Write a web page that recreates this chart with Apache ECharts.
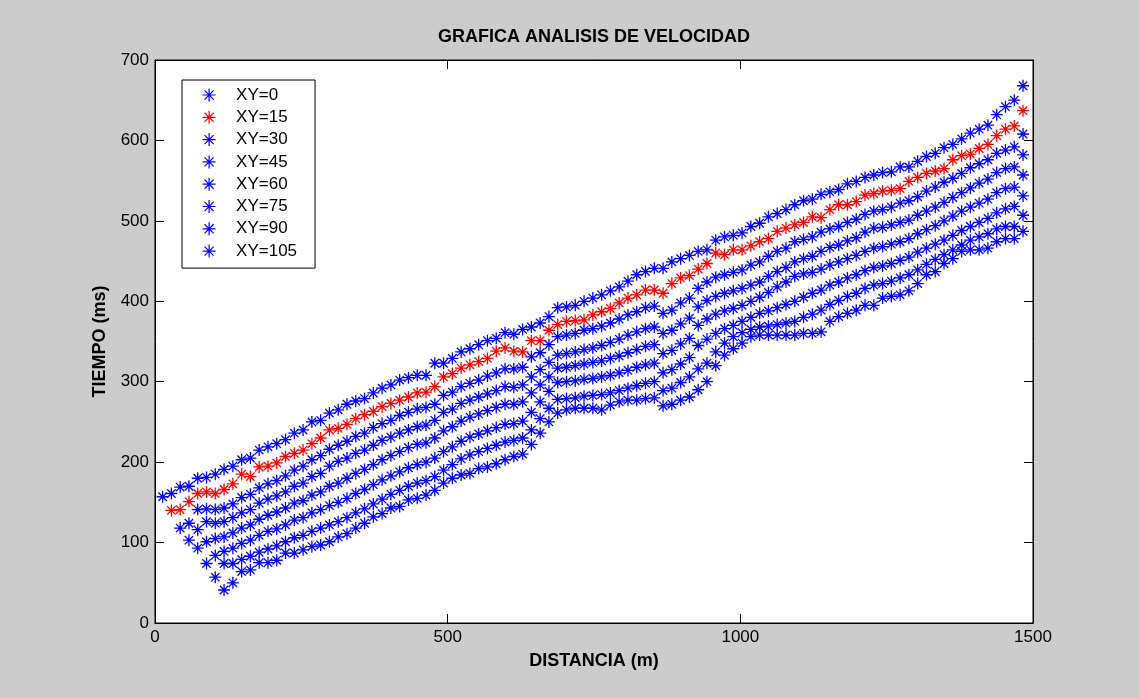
<!DOCTYPE html>
<html><head><meta charset="utf-8">
<script src="https://cdn.jsdelivr.net/npm/echarts@6/dist/echarts.min.js"></script>
<style>html,body{margin:0;padding:0;background:#cccccc}#c{width:1139px;height:698px}</style>
</head><body><div id="c"></div>
<script>
// Distance (m) of each geophone position
const distances = [13,28,43,58,73,88,103,118,133,148,163,178,193,208,223,238,253,268,283,298,313,328,343,358,373,388,403,418,433,448,463,478,493,508,523,538,553,568,583,598,613,628,643,658,673,688,703,718,733,748,763,778,793,808,823,838,853,868,883,898,913,928,943,958,973,988,1003,1018,1033,1048,1063,1078,1093,1108,1123,1138,1153,1168,1183,1198,1213,1228,1243,1258,1273,1288,1303,1318,1333,1348,1363,1378,1393,1408,1423,1438,1453,1468,1483];

// Travel times (ms) per series, aligned with distances (null = no point)
const xy0 = [157,161,169,170,180,181,185,191,195,203,205,215,219,223,228,236,240,250,252,261,265,272,276,279,286,292,296,302,305,308,308,323,323,329,337,341,346,351,354,361,359,365,368,373,381,392,393,395,400,404,408,413,418,425,433,437,441,441,449,453,457,462,464,476,480,482,485,493,497,505,509,514,520,525,527,533,536,539,546,549,554,557,560,561,567,567,574,580,584,591,595,602,609,614,619,632,642,650,668];
const xy15 = [null,140,141,151,161,163,161,166,173,185,182,194,195,199,207,211,215,223,230,240,242,247,254,259,263,269,273,277,281,286,287,294,306,310,317,321,325,329,338,342,338,337,351,351,364,371,375,376,377,383,387,391,398,404,408,414,414,410,422,429,432,440,447,460,458,464,464,469,474,478,487,491,495,498,505,504,514,520,520,524,532,534,537,538,540,549,554,559,562,565,576,581,583,590,595,606,614,618,637];
const xy30 = [null,null,118,124,141,142,141,143,148,156,160,168,173,177,183,190,195,203,208,216,221,226,232,236,243,248,252,258,262,266,268,272,283,287,294,298,302,307,311,316,316,318,331,336,346,356,358,360,364,366,369,373,378,383,387,392,394,385,389,398,404,416,424,430,433,436,439,445,449,456,462,466,474,477,480,486,490,493,498,502,508,512,514,517,522,525,530,537,542,548,553,559,566,571,576,584,588,592,608];
const xy45 = [null,null,null,103,116,126,124,126,131,137,141,149,154,158,163,170,174,182,186,195,201,205,211,215,221,227,231,236,240,244,246,252,262,266,273,277,281,285,289,294,293,296,306,315,324,333,335,337,340,342,345,349,353,358,362,366,368,360,364,372,379,393,401,406,410,413,416,420,424,431,437,442,449,453,456,462,467,470,475,479,486,491,492,495,498,501,507,512,517,523,529,535,541,547,552,560,565,567,582];
const xy60 = [null,null,null,null,93,101,105,107,112,118,122,129,134,138,143,149,152,159,163,170,174,180,186,191,197,203,208,213,218,222,224,230,239,244,251,256,260,264,268,272,272,275,286,296,306,317,318,320,322,324,326,329,332,336,340,344,346,335,339,347,354,370,378,384,388,391,395,400,405,411,418,424,431,434,436,440,445,449,453,457,462,466,468,471,474,478,484,489,494,500,506,512,517,522,527,535,540,542,557];
const xy75 = [null,null,null,null,null,74,84,89,93,99,103,109,114,117,122,128,131,137,141,146,150,155,161,166,172,178,183,188,193,197,200,205,213,219,226,231,235,239,243,247,248,251,262,275,288,299,300,301,303,304,306,308,311,314,318,321,323,311,315,322,330,345,353,360,366,370,375,380,385,388,392,396,400,405,410,414,420,424,429,433,438,442,444,447,451,455,461,466,471,476,482,488,493,498,503,510,515,518,531];
const xy90 = [null,null,null,null,null,null,57,74,74,79,83,88,92,96,101,106,109,114,118,122,126,131,137,142,148,154,160,165,170,174,177,182,190,197,204,209,213,217,221,225,227,230,240,254,267,278,279,280,282,283,284,286,289,292,295,298,300,289,292,299,306,316,323,337,348,356,361,365,368,369,371,373,375,380,384,389,396,401,406,410,416,420,422,425,429,433,439,446,452,458,464,470,476,480,484,490,493,493,507];
const xy105 = [null,null,null,null,null,null,null,41,50,64,66,75,75,78,87,87,91,95,97,101,107,111,118,124,132,136,143,145,153,155,159,165,174,180,184,186,192,194,198,203,207,210,222,236,250,261,265,267,267,267,265,271,275,277,277,279,280,270,272,277,281,290,300,320,333,341,348,356,358,358,358,358,358,360,360,362,375,381,385,389,395,395,404,406,408,413,422,433,437,447,453,462,464,464,466,474,478,478,487];

const seriesNames = ['XY=0','XY=15','XY=30','XY=45','XY=60','XY=75','XY=90','XY=105'];
const seriesValues = [xy0, xy15, xy30, xy45, xy60, xy75, xy90, xy105];
const seriesColors = ['#0000ff','#ff0000','#0000ff','#0000ff','#0000ff','#0000ff','#0000ff','#0000ff'];

const ASTERISK = 'path://M5,0L5,10M0,5L10,5M1.5,1.5L8.5,8.5M1.5,8.5L8.5,1.5';
const FONT = 'Liberation Sans, Arial, Helvetica, sans-serif';

const series = seriesNames.map((name, k) => ({
  name: name,
  type: 'scatter',
  symbol: ASTERISK,
  symbolSize: 12,
  data: distances.map((d, i) => seriesValues[k][i] == null ? null : [d, seriesValues[k][i]]).filter(p => p),
  itemStyle: { color: seriesColors[k], borderColor: seriesColors[k], borderWidth: 1.3, opacity: 1 },
  emphasis: { disabled: true },
  silent: true,
  animation: false
}));

function axisCommon(extra) {
  return Object.assign({
    type: 'value',
    axisLine: { show: true, onZero: false, lineStyle: { color: '#000', width: 1 } },
    axisTick: { show: true, inside: true, length: 9, lineStyle: { color: '#000', width: 1 } },
    splitLine: { show: false },
    axisLabel: { show: true, color: '#000', fontSize: 17, fontFamily: FONT }
  }, extra);
}

const plain = v => String(v);

const chart = echarts.init(document.getElementById('c'), null, { renderer: 'canvas' });
chart.setOption({
  backgroundColor: '#cccccc',
  animation: false,
  textStyle: { fontFamily: FONT },
  title: {
    text: 'GRAFICA ANALISIS DE VELOCIDAD',
    left: 594, top: 28, padding: 0, textAlign: 'center',
    textStyle: { fontSize: 18, fontWeight: 'bold', color: '#000', fontFamily: FONT }
  },
  grid: { left: 155, right: 106, top: 60, bottom: 75, show: true, backgroundColor: '#ffffff', borderColor: '#000', borderWidth: 1 },
  legend: {
    orient: 'vertical', left: 182, top: 80,
    data: seriesNames,
    backgroundColor: '#ffffff', borderColor: '#000', borderWidth: 1, borderRadius: 0,
    padding: [6, 18, 8, 20], itemGap: 4.3, itemWidth: 14, itemHeight: 13,
    itemStyle: { borderWidth: 1.2 },
    selectedMode: false,
    textStyle: { fontSize: 17, lineHeight: 18, color: '#000', fontFamily: FONT, padding: [0, 0, 0, 15] }
  },
  xAxis: [
    axisCommon({ position: 'bottom', min: 0, max: 1500, interval: 500,
      name: 'DISTANCIA (m)', nameLocation: 'middle', nameGap: 29,
      nameTextStyle: { fontSize: 18, fontWeight: 'bold', color: '#000', fontFamily: FONT },
      axisLabel: { show: true, color: '#000', fontSize: 17, fontFamily: FONT, margin: 6, formatter: plain } }),
    axisCommon({ position: 'top', min: 0, max: 1500, interval: 500, axisLabel: { show: false } })
  ],
  yAxis: [
    axisCommon({ position: 'left', min: 0, max: 700, interval: 100,
      name: 'TIEMPO (ms)', nameLocation: 'middle', nameGap: 46,
      nameTextStyle: { fontSize: 18, fontWeight: 'bold', color: '#000', fontFamily: FONT },
      axisLabel: { show: true, color: '#000', fontSize: 17, fontFamily: FONT, margin: 6, formatter: plain } }),
    axisCommon({ position: 'right', min: 0, max: 700, interval: 100, axisLabel: { show: false } })
  ],
  series: series
});
</script>
</body></html>
